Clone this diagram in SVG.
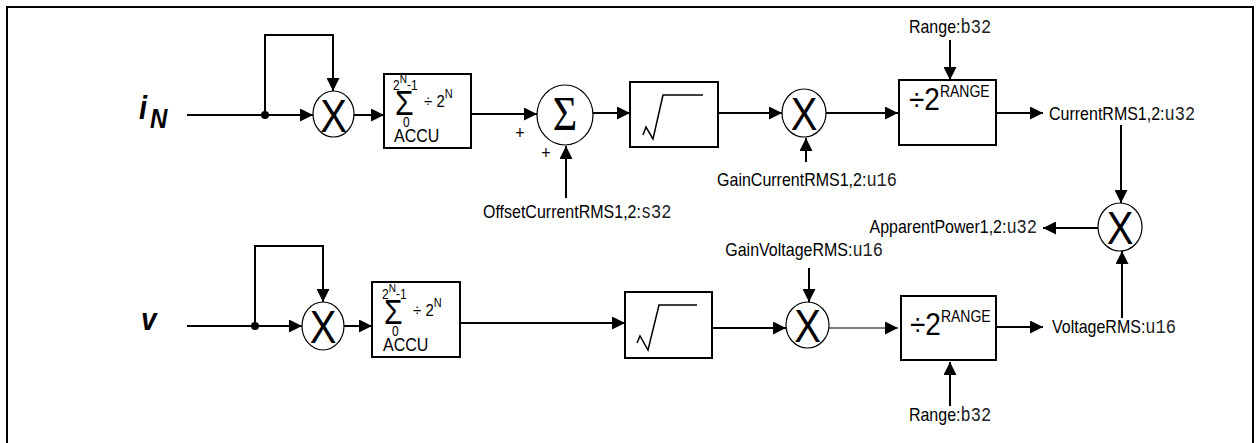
<svg xmlns="http://www.w3.org/2000/svg" width="1256" height="443" viewBox="0 0 1256 443">
<style>
.ln{fill:none;stroke:#000;stroke-width:2}
.thin{fill:none;stroke:#000;stroke-width:1.2}
.box{fill:#fff;stroke:#000;stroke-width:2}
.circ{fill:#fff;stroke:#000;stroke-width:1.2}
.sq{fill:none;stroke:#000;stroke-width:1.5}
.t{font-family:"Liberation Sans",Arial,sans-serif;font-size:16px;fill:#000}
.m{font-family:"Liberation Mono","Courier New",monospace;font-size:17px;fill:#222}
.x{font-family:"Liberation Sans",Arial,sans-serif;font-size:40px;fill:#000}
.sig{font-family:"Liberation Serif","Times New Roman",serif;font-size:42px;fill:#000}
.acc{font-family:"Liberation Sans",Arial,sans-serif;fill:#000}
.in{font-family:"Liberation Sans",Arial,sans-serif;font-weight:bold;font-style:italic;fill:#000}
</style>
<defs>
<marker id="ah" markerWidth="13" markerHeight="13" refX="13" refY="6.5" orient="auto" markerUnits="userSpaceOnUse"><path d="M0,0 L13,6.5 L0,13 z" fill="#000"/></marker>
<g id="accuContent">
<text class="acc" font-size="12" transform="translate(9,16) scale(1,1.15)">2<tspan font-size="10" dy="-6">N</tspan><tspan dy="6">-1</tspan></text>
<text class="acc" font-size="30" transform="translate(11,41) scale(1,1.15)">Σ</text>
<text class="acc" font-size="12" transform="translate(19,53) scale(1,1.15)">0</text>
<text class="acc" font-size="15" transform="translate(40,33) scale(1,1.15)">÷ 2<tspan font-size="11" dy="-8">N</tspan></text>
<text class="acc" font-size="16" transform="translate(10,68) scale(1,1.15)">ACCU</text>
</g>
</defs>
<rect x="7" y="7" width="1246" height="445" fill="#fff" stroke="#000" stroke-width="2"/>

<g id="connectors">
<line class="ln" x1="187" y1="115" x2="313" y2="115" marker-end="url(#ah)"/>
<polyline class="ln" points="265,115 265,35 333,35 333,91" marker-end="url(#ah)"/>
<line class="ln" x1="354" y1="115" x2="384" y2="115" marker-end="url(#ah)"/>
<line class="ln" x1="471" y1="114" x2="537" y2="114" marker-end="url(#ah)"/>
<line class="ln" x1="566" y1="198" x2="566" y2="146" marker-end="url(#ah)"/>
<line class="ln" x1="593" y1="113" x2="630" y2="113" marker-end="url(#ah)"/>
<line class="ln" x1="718" y1="113" x2="782" y2="113" marker-end="url(#ah)"/>
<line class="ln" x1="806" y1="162" x2="806" y2="138" marker-end="url(#ah)"/>
<line class="ln" x1="826" y1="113" x2="898" y2="113" marker-end="url(#ah)"/>
<line class="ln" x1="950" y1="40" x2="950" y2="80" marker-end="url(#ah)"/>
<line class="ln" x1="996" y1="113" x2="1043" y2="113" marker-end="url(#ah)"/>
<line class="ln" x1="1121" y1="125" x2="1121" y2="203" marker-end="url(#ah)"/>
<line class="ln" x1="1098" y1="228" x2="1043" y2="228" marker-end="url(#ah)"/>
<line class="ln" x1="1122" y1="318" x2="1122" y2="251" marker-end="url(#ah)"/>

<line class="ln" x1="187" y1="326" x2="302" y2="326" marker-end="url(#ah)"/>
<polyline class="ln" points="255,326 255,246 323,246 323,302" marker-end="url(#ah)"/>
<line class="ln" x1="344" y1="326" x2="372" y2="326" marker-end="url(#ah)"/>
<line class="ln" x1="460" y1="323" x2="625" y2="323" marker-end="url(#ah)"/>
<line class="ln" x1="712" y1="328" x2="786" y2="328" marker-end="url(#ah)"/>
<line class="ln" x1="809" y1="268" x2="809" y2="302" marker-end="url(#ah)"/>
<line class="thin" x1="829" y1="328" x2="898" y2="328" marker-end="url(#ah)"/>
<line class="ln" x1="996" y1="327" x2="1043" y2="327" marker-end="url(#ah)"/>
<line class="ln" x1="950" y1="406" x2="950" y2="362" marker-end="url(#ah)"/>
<circle cx="265" cy="115" r="4" fill="#000"/>
<circle cx="255" cy="326" r="4" fill="#000"/>
</g>

<g id="in-i">
<text class="in" font-size="29" transform="translate(139,119) scale(1,1.15)">i</text>
<text class="in" font-size="24" transform="translate(150,128) scale(1,1.15)">N</text>
</g>
<g id="in-v">
<text class="in" font-size="28" transform="translate(141,330) scale(1,1.15)">v</text>
</g>

<g id="mul1"><ellipse class="circ" cx="333.5" cy="114" rx="20.5" ry="23"/><text class="x" text-anchor="middle" transform="translate(333.5,132) scale(1,1.15)">X</text></g>
<g id="accu1" transform="translate(384,74)"><rect class="box" x="0" y="0" width="87" height="74"/><use href="#accuContent"/></g>
<g id="sum"><ellipse class="circ" cx="565" cy="115" rx="28" ry="30"/><text class="sig" text-anchor="middle" transform="translate(565,130) scale(1,1.15)">Σ</text>
<text class="t" text-anchor="middle" transform="translate(520,139) scale(1,1.15)">+</text>
<text class="t" text-anchor="middle" transform="translate(546,159) scale(1,1.15)">+</text></g>
<g id="offset"><text class="t" transform="translate(483,218) scale(1,1.15)">OffsetCurrentRMS1,2:<tspan class="m">s32</tspan></text></g>
<g id="sqrt1"><rect class="box" x="630" y="82" width="88" height="65"/><path class="sq" d="M643,135 L646,127 L653,139 L663,95 L703,95"/></g>
<g id="mul2"><ellipse class="circ" cx="804" cy="113" rx="22" ry="24"/><text class="x" text-anchor="middle" transform="translate(804,130) scale(1,1.15)">X</text></g>
<g id="gainI"><text class="t" text-anchor="middle" transform="translate(807,186) scale(1,1.15)">GainCurrentRMS1,2:<tspan class="m">u16</tspan></text></g>
<g id="range1"><rect class="box" x="899" y="80" width="97" height="65"/><text class="acc" font-size="28" transform="translate(909,110) scale(1,1.15)">÷2<tspan font-size="14" dy="-11">RANGE</tspan></text></g>
<g id="rangeLbl1"><text class="t" text-anchor="middle" transform="translate(950,33) scale(1,1.15)">Range:<tspan class="m">b32</tspan></text></g>
<g id="curRMS"><text class="t" transform="translate(1049,120) scale(1,1.15)">CurrentRMS1,2:<tspan class="m">u32</tspan></text></g>
<g id="mul3"><ellipse class="circ" cx="1120" cy="227" rx="22" ry="24"/><text class="x" text-anchor="middle" transform="translate(1120,244) scale(1,1.15)">X</text></g>
<g id="apparent"><text class="t" text-anchor="end" transform="translate(1037,233) scale(1,1.15)">ApparentPower1,2:<tspan class="m">u32</tspan></text></g>

<g id="mul4"><ellipse class="circ" cx="323" cy="326" rx="21" ry="24"/><text class="x" text-anchor="middle" transform="translate(323,343) scale(1,1.15)">X</text></g>
<g id="accu2" transform="translate(372,282)"><rect class="box" x="0" y="0" width="88" height="75"/><use href="#accuContent" transform="translate(1,1)"/></g>
<g id="sqrt2"><rect class="box" x="625" y="292" width="87" height="66"/><path class="sq" d="M637,343 L640,336 L648,350 L659,305 L697,305"/></g>
<g id="mul5"><ellipse class="circ" cx="807.5" cy="325" rx="21.5" ry="23"/><text class="x" text-anchor="middle" transform="translate(807.5,342) scale(1,1.15)">X</text></g>
<g id="gainV"><text class="t" text-anchor="end" transform="translate(883,256) scale(1,1.15)">GainVoltageRMS:<tspan class="m">u16</tspan></text></g>
<g id="range2"><rect class="box" x="901" y="296" width="95" height="64"/><text class="acc" font-size="28" transform="translate(910,335) scale(1,1.15)">÷2<tspan font-size="14" dy="-11">RANGE</tspan></text></g>
<g id="rangeLbl2"><text class="t" text-anchor="middle" transform="translate(950,421) scale(1,1.15)">Range:<tspan class="m">b32</tspan></text></g>
<g id="voltRMS"><text class="t" transform="translate(1052,333) scale(1,1.15)">VoltageRMS:<tspan class="m">u16</tspan></text></g>
</svg>
